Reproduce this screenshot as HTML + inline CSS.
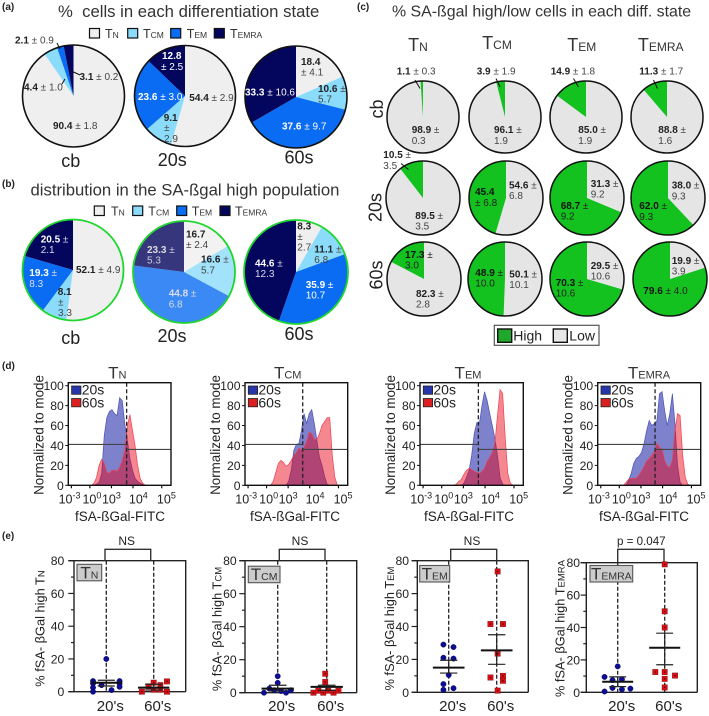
<!DOCTYPE html>
<html>
<head>
<meta charset="utf-8">
<title>SA-ßgal T cell differentiation figure</title>
<style>
html,body{margin:0;padding:0;background:#fff;}
svg{display:block;font-family:"Liberation Sans",sans-serif;}
</style>
</head>
<body>
<svg id="fig" xmlns="http://www.w3.org/2000/svg" width="709" height="716" viewBox="0 0 709 716"></svg>
<script>
/* ---------- pie values (clockwise from 12 o'clock) ---------- */
const subsetOrder = ['TN','TCM','TEM','TEMRA'];
const panelACb  = [90.4, 4.4, 2.1, 3.1];
const panelA20s = [54.4, 9.1, 23.6, 12.8];
const panelA60s = [18.4, 10.6, 37.6, 33.3];
const panelBCb  = [52.1, 8.1, 19.3, 20.5];
const panelB20s = [16.7, 16.6, 44.8, 23.3];
const panelB60s = [8.3, 11.1, 35.9, 44.6];
/* panel c: [low, high] */
const panelCCbTN = [98.9, 1.1];
const panelCCbTCM = [96.1, 3.9];
const panelCCbTEM = [85.0, 14.9];
const panelCCbTEMRA = [88.8, 11.3];
const panelC20TN = [89.5, 10.5];
const panelC20TCM = [54.6, 45.4];
const panelC20TEM = [31.3, 68.7];
const panelC20TEMRA = [38.0, 62.0];
const panelC60TN = [82.3, 17.3];
const panelC60TCM = [50.1, 48.9];
const panelC60TEM = [29.5, 70.3];
const panelC60TEMRA = [19.9, 79.6];

/* ---------- histogram values: % of mode per channel bin (40 bins) ---------- */
const histTN20s = [0,0,0,0,0,0,0,0,0,0,0.5,1,3,12,50,68,74,76,72,70,88,85,62,45,27,15,7,4,2,1,0,0,0,0,0,0,0,0,0,0,0];
const histTN60s = [0,0,0,0,0,0,0,0,0,0,2,8,20,26,22,13,12,15,15,14,18,25,35,60,71,55,40,20,7,2,0,0,0,0,0,0,0,0,0,0,0];
const histTCM20s = [0,0,0,0,0,0,0,0,0,0,0,0,0,0,0,0,0,4,15,35,41,42,55,72,62,72,76,62,45,28,20,9,1,0,0,0,0,0,0,0,0];
const histTCM60s = [0,0,0,0,0,0,0,0,0,0,0,4,13,22,25,23,19,21,25,30,33,37,36,38,44,53,52,46,46,52,60,64,68,68,30,8,0,0,0,0,0];
const histTEM20s = [0,0,0,0,0,0,0,0,0,0,0,0,0,0,0,0,0,2,8,15,30,52,63,62,80,94,85,72,60,47,30,8,1,0,0,0,0,0,0,0,0];
const histTEM60s = [0,0,0,0,0,0,0,0,0,0,0,0,0,0,1,4,6,11,15,17,16,14,13,12,14,17,24,28,33,42,70,96,92,48,12,2,0,0,0,0,0];
const histTEMRA20s = [0,0,0,0,0,0,0,0,0,0,0,0,5,12,22,27,29,33,42,55,65,60,62,65,92,94,75,60,72,92,62,20,3,0,0,0,0,0,0,0,0];
const histTEMRA60s = [0,0,0,0,0,0,0,0,0,0,0,3,6,7,7,7,10,14,19,24,27,30,34,42,38,36,25,19,18,25,55,72,70,30,8,1,0,0,0,0,0];
/* gate: divider channel (fraction of axis), % level left and right of it */
const gateChannel = [0.568, 0.562, 0.565, 0.557];
const gateLeftPct = [41, 41, 41, 41];
const gateRightPct = [36, 36, 36, 36];
const histYTicks = [0, 20, 40, 60, 80, 100];
const histXTickExp = ['-3','0','3','4','5'];

/* ---------- scatter values (% high); offset = jitter in category units ---------- */
const scatterTicks = [0, 20, 40, 60, 80];
const scatterCats = ["20's", "60's"];
const tnYoung = [20,6.5,5,2.5,0,4,1,6.5,5,3];
const tnYoungOffset = [0,-0.28,-0.28,-0.28,-0.28,-0.1,0.11,0.28,0.28,0.28];
const tnOld = [0,3.3,5.5,1.2,4,1.2,6.3,0];
const tnOldOffset = [-0.25,-0.11,0,0,0.14,0.14,0.28,0.28];
const tnMean = [5.5, 2.5];
const tnSemHigh = [7, 4.5];
const tnSemLow = [3.5, 1];
const tcmYoung = [10,6,0,2.5,1.5,1,0,1.5];
const tcmYoungOffset = [0,0,-0.28,-0.17,-0.07,0.07,0.17,0.27];
const tcmOld = [11.5,6.5,0,1.2,0,1.2,0,1.2];
const tcmOldOffset = [-0.03,-0.03,-0.27,-0.17,-0.07,0.03,0.14,0.24];
const tcmMean = [2.5, 3.5];
const tcmSemHigh = [4.5, 4.5];
const tcmSemLow = [1, 1.5];
const temYoung = [29,27.5,21,20.5,10.5,5,1.5,2.5];
const temYoungOffset = [-0.11,0.1,-0.11,0.1,0,-0.11,-0.11,0.1];
const temOld = [73.5,41.5,41.5,23.5,9,10,7,1];
const temOldOffset = [0.02,-0.13,0.13,0.02,-0.13,0.13,0.13,0.02];
const temMean = [15, 25.5];
const temSemHigh = [19.5, 35];
const temSemLow = [11.7, 17];
const temraYoung = [16,9.5,7.5,8,2.7,1.8,2.3,0.5];
const temraYoungOffset = [0,-0.28,-0.11,0.09,-0.11,0.09,0.27,-0.28];
const temraOld = [79,50,40,12.5,12.5,10.3,8.3,3];
const temraOldOffset = [0,0,0,-0.2,0,0.22,0,0];
const temraMean = [6.5, 27.5];
const temraSemHigh = [9.5, 36.5];
const temraSemLow = [3.5, 17];

/* ---------- helpers ---------- */
const NS = 'http://www.w3.org/2000/svg';
const fig = document.getElementById('fig');
const COL = {tn:'#efefef', tcm:'#8bdcfb', tem:'#0a6cf2', temra:'#04055c', high:'#13c11f', low:'#e5e5e5', ring:'#1fd62f', ink:'#222', soft:'#444'};

function add(parent, tag, attrs, name) {
  const el = document.createElementNS(NS, tag);
  for (const k in attrs) el.setAttribute(k, attrs[k]);
  
  
  parent.appendChild(el);
  return el;
}
function span(parent, str, attrs) {
  const t = document.createElementNS(NS, 'tspan');
  for (const k in (attrs || {})) t.setAttribute(k, attrs[k]);
  t.textContent = str;
  parent.appendChild(t);
  return t;
}
function text(name, x, y, str, attrs) {
  const a = Object.assign({x: x, y: y, fill: COL.ink}, attrs || {});
  const el = add(fig, 'text', a, name);
  el.textContent = str;
  return el;
}
function subset(name, x, y, label, big, small, attrs) {
  const a = Object.assign({x: x, y: y, fill: '#333', 'font-size': big}, attrs || {});
  const el = add(fig, 'text', a, name);
  span(el, 'T');
  span(el, label.slice(1), {'font-size': small});
  return el;
}
function pie(name, cx, cy, r, values, colors, stroke, sw, opacity) {
  const g = add(fig, 'g', {}, name);
  const total = values.reduce((a, b) => a + b, 0);
  const slices = add(g, 'g', {opacity: opacity || 1}, name + '-slices');
  let acc = 0;
  values.forEach((v, i) => {
    const a0 = acc / total * 2 * Math.PI;
    acc += v;
    const a1 = acc / total * 2 * Math.PI;
    const large = (a1 - a0) > Math.PI ? 1 : 0;
    const d = 'M' + cx + ' ' + cy +
      'L' + (cx + r * Math.sin(a0)).toFixed(2) + ' ' + (cy - r * Math.cos(a0)).toFixed(2) +
      'A' + r + ' ' + r + ' 0 ' + large + ' 1 ' + (cx + r * Math.sin(a1)).toFixed(2) + ' ' + (cy - r * Math.cos(a1)).toFixed(2) + 'Z';
    add(slices, 'path', {d: d, fill: colors[i]}, name + '-slice');
  });
  add(g, 'circle', {cx: cx, cy: cy, r: r, fill: 'none', stroke: stroke, 'stroke-width': sw}, name + '-outline');
}
/* pie value label: bold part + regular part */
function L(x, y, bold, rest, boldFill, restFill) {
  const el = add(fig, 'text', {x: x, y: y, 'font-size': 10, fill: boldFill || COL.ink}, 'pie-value-label');
  if (bold) span(el, bold, {'font-weight': 'bold'});
  if (rest) span(el, rest, {fill: restFill || COL.soft});
}
function leader(x1, y1, x2, y2) {
  add(fig, 'line', {x1: x1, y1: y1, x2: x2, y2: y2, stroke: '#111', 'stroke-width': 1}, 'leader-line');
}
function square(name, x, y, w, h, fill, sw, stroke) {
  add(fig, 'rect', {x: x, y: y, width: w, height: h, fill: fill, stroke: stroke || '#111', 'stroke-width': sw === undefined ? 1.2 : sw}, name);
}

/* ---------- panel letters ---------- */
text('panel-label-a', 2, 10, '(a)', {'font-size': 10, 'font-weight': 'bold'});
text('panel-label-b', 2, 187, '(b)', {'font-size': 10, 'font-weight': 'bold'});
text('panel-label-c', 357, 10, '(c)', {'font-size': 10, 'font-weight': 'bold'});
text('panel-label-d', 2, 369, '(d)', {'font-size': 10, 'font-weight': 'bold'});
text('panel-label-e', 2, 539, '(e)', {'font-size': 10, 'font-weight': 'bold'});

/* ---------- panel a ---------- */
const subsetColors = [COL.tn, COL.tcm, COL.tem, COL.temra];
text('panel-a-title', 58, 17, '%  cells in each differentiation state', {'font-size': 16.7, fill: '#333', style: 'white-space:pre'});
const aLegendX = [89.5, 127.7, 170.7, 214.3];
const aLegendTextX = [105, 143, 186.7, 230];
subsetOrder.forEach((s, i) => {
  square('legend-a-swatch-' + s.toLowerCase(), aLegendX[i], 28.5, 10, 9.5, subsetColors[i]);
  subset('legend-a-label-' + s.toLowerCase(), aLegendTextX[i], 38, s, 12.5, 8.5);
});
pie('pie-a-cb', 73.5, 96, 51, panelACb, subsetColors, '#111', 1.6);
pie('pie-a-20s', 185, 96, 50.5, panelA20s, subsetColors, '#111', 1.6);
pie('pie-a-60s', 296, 97, 51, panelA60s, subsetColors, '#111', 1.6);
L(15, 43.5, '2.1', ' ± 0.9'); L(24, 90.5, '4.4', ' ± 1.0'); L(79.5, 80, '3.1', ' ± 0.2'); L(53, 129, '90.4', ' ± 1.8');
leader(57, 43, 60, 49); leader(72.5, 71.5, 80, 75); leader(62, 84, 65, 79);
L(162, 59, '12.8', '', '#fff'); L(161, 70, '', '± 2.5', '#fff', '#fff');
L(138, 100, '23.6', ' ± 3.0', '#fff', '#fff'); L(189.3, 101, '54.4', ' ± 2.9');
L(163.7, 121, '9.1', ''); L(164, 131, '', '±'); L(164, 142, '', '2.9');
L(301, 65, '18.4', ''); L(301, 75.5, '', '± 4.1');
L(245, 95.5, '33.3', ' ± 10.6', '#fff', '#fff'); L(318, 92, '10.6', ' ±'); L(318, 102.5, '', '5.7');
L(282, 129.5, '37.6', ' ± 9.7', '#fff', '#fff');
text('pie-a-cb-label', 70.7, 167, 'cb', {'font-size': 18, 'text-anchor': 'middle', fill: '#222'});
text('pie-a-20s-label', 172.3, 166, '20s', {'font-size': 18, 'text-anchor': 'middle', fill: '#222'});
text('pie-a-60s-label', 299, 163.5, '60s', {'font-size': 18, 'text-anchor': 'middle', fill: '#222'});

/* ---------- panel b ---------- */
text('panel-b-title', 30.5, 195.5, 'distribution in the SA-ßgal high population', {'font-size': 16.7, fill: '#333'});
const bLegendX = [94.3, 132.7, 176.7, 220];
const bLegendTextX = [111, 148.3, 191.7, 235];
subsetOrder.forEach((s, i) => {
  square('legend-b-swatch-' + s.toLowerCase(), bLegendX[i], 206, 10, 9.5, subsetColors[i]);
  subset('legend-b-label-' + s.toLowerCase(), bLegendTextX[i], 215.5, s, 12.5, 8.5);
});
pie('pie-b-cb', 73, 270, 50.5, panelBCb, subsetColors, COL.ring, 1.8);
pie('pie-b-20s', 184, 272, 51, panelB20s, subsetColors, COL.ring, 1.8, 0.8);
pie('pie-b-60s', 296, 272, 52, panelB60s, subsetColors, COL.ring, 1.8);
L(40.7, 242.5, '20.5', ' ±', '#fff', '#dde'); L(40.7, 253, '', '2.1', '#fff', '#dde');
L(29.3, 276, '19.3', ' ±', '#fff', '#dde'); L(29.3, 287, '', '8.3', '#fff', '#dde');
L(76, 273, '52.1', ' ± 4.9'); L(57.7, 295, '8.1', ''); L(58, 305.5, '', '±'); L(58, 316, '', '3.3');
L(186, 237.5, '16.7', ''); L(186, 248, '', '± 2.4');
L(201, 262.5, '16.6', ' ±'); L(201, 273.5, '', '5.7');
L(147, 253, '23.3', ' ±', '#ddd', '#ccd'); L(147, 263.5, '', '5.3', '#ddd', '#ccd');
L(168.7, 296.5, '44.8', ' ±', '#dde', '#dde'); L(168.7, 307.5, '', '6.8', '#dde', '#dde');
L(297.3, 229.5, '8.3', ''); L(297.3, 240, '', '±'); L(297.3, 250.5, '', '2.7');
L(314.3, 252.5, '11.1', ' ±'); L(314.3, 263, '', '6.8');
L(255, 266.5, '44.6', ' ±', '#fff', '#dde'); L(255, 277, '', '12.3', '#fff', '#dde');
L(305.7, 288, '35.9', ' ±', '#fff', '#fff'); L(305.7, 298.5, '', '10.7', '#fff', '#fff');
text('pie-b-cb-label', 70.7, 344, 'cb', {'font-size': 18, 'text-anchor': 'middle', fill: '#222'});
text('pie-b-20s-label', 172, 342, '20s', {'font-size': 18, 'text-anchor': 'middle', fill: '#222'});
text('pie-b-60s-label', 299, 340, '60s', {'font-size': 18, 'text-anchor': 'middle', fill: '#222'});

/* ---------- panel c ---------- */
const hiLowColors = [COL.low, COL.high];
text('panel-c-title', 392, 16.5, '% SA-ßgal high/low cells in each diff. state', {'font-size': 15.9, fill: '#333'});
subset('column-head-tn', 418, 51, 'TN', 18, 12, {'text-anchor': 'middle'});
subset('column-head-tcm', 497, 49, 'TCM', 18, 12, {'text-anchor': 'middle'});
subset('column-head-tem', 581.7, 51, 'TEM', 18, 12, {'text-anchor': 'middle'});
subset('column-head-temra', 660.7, 51, 'TEMRA', 18, 12, {'text-anchor': 'middle'});
text('row-label-cb', 383, 109, 'cb', {'font-size': 18, 'text-anchor': 'middle', transform: 'rotate(-90 383 109)', fill: '#222'});
text('row-label-20s', 381.7, 207.5, '20s', {'font-size': 18, 'text-anchor': 'middle', transform: 'rotate(-90 381.7 207.5)', fill: '#222'});
text('row-label-60s', 382.3, 275, '60s', {'font-size': 18, 'text-anchor': 'middle', transform: 'rotate(-90 382.3 275)', fill: '#222'});
pie('pie-c-cb-tn', 423, 117, 36, panelCCbTN, hiLowColors, '#111', 1.5);
pie('pie-c-cb-tcm', 505, 117, 36, panelCCbTCM, hiLowColors, '#111', 1.5);
pie('pie-c-cb-tem', 586, 117, 36, panelCCbTEM, hiLowColors, '#111', 1.5);
pie('pie-c-cb-temra', 667, 117, 36, panelCCbTEMRA, hiLowColors, '#111', 1.5);
pie('pie-c-20s-tn', 423, 198, 37, panelC20TN, hiLowColors, '#111', 1.5);
pie('pie-c-20s-tcm', 506, 198, 37, panelC20TCM, hiLowColors, '#111', 1.5);
pie('pie-c-20s-tem', 587, 198, 37, panelC20TEM, hiLowColors, '#111', 1.5);
pie('pie-c-20s-temra', 668, 198, 37, panelC20TEMRA, hiLowColors, '#111', 1.5);
pie('pie-c-60s-tn', 424, 279, 37, panelC60TN, hiLowColors, '#111', 1.5);
pie('pie-c-60s-tcm', 505, 279, 37, panelC60TCM, hiLowColors, '#111', 1.5);
pie('pie-c-60s-tem', 587, 279, 37, panelC60TEM, hiLowColors, '#111', 1.5);
pie('pie-c-60s-temra', 670, 279, 37, panelC60TEMRA, hiLowColors, '#111', 1.5);
L(396.7, 74.5, '1.1', ' ± 0.3'); L(476.7, 74.5, '3.9', ' ± 1.9'); L(550.7, 74.5, '14.9', ' ± 1.8'); L(639.3, 74.5, '11.3', ' ± 1.7');
leader(415, 80, 420, 88.5); leader(496, 78.5, 500, 87); leader(573.5, 78.5, 578.5, 87); leader(653.5, 80, 657.5, 88.5);
L(411.7, 133, '98.9', ' ±'); L(411.7, 144, '', '0.3');
L(494, 133, '96.1', ' ±'); L(494, 144, '', '1.9');
L(578.3, 133, '85.0', ' ±'); L(578.3, 144, '', '1.9');
L(658.3, 133, '88.8', ' ±'); L(658.3, 144, '', '1.6');
L(383.3, 158, '10.5', ' ±'); L(383.3, 169, '', '3.5'); leader(401, 163.5, 408.5, 169.5);
L(415.3, 219, '89.5', ' ±'); L(415.3, 229.5, '', '3.5');
L(475, 195, '45.4', '', '#111'); L(475, 206, '', '± 6.8', '#111', '#222');
L(509, 188.5, '54.6', ' ±'); L(509, 199, '', '6.8');
L(590.7, 187, '31.3', ' ±'); L(590.7, 197.5, '', '9.2');
L(560.7, 209, '68.7', ' ±', '#111', '#222'); L(560.7, 219.5, '', '9.2', '#111', '#222');
L(671.7, 188.5, '38.0', ' ±'); L(671.7, 199.5, '', '9.3');
L(639.3, 209, '62.0', ' ±', '#111', '#222'); L(639.3, 220, '', '9.3', '#111', '#222');
L(405, 258, '17.3', ' ±', '#111', '#222'); L(405, 268.5, '', '3.0', '#111', '#222');
L(416, 297, '82.3', ' ±'); L(416, 307.5, '', '2.8');
L(475.3, 276, '48.9', ' ±', '#111', '#222'); L(475.3, 286.5, '', '10.0', '#111', '#222');
L(509.3, 277.5, '50.1', ' ±'); L(509.3, 288, '', '10.1');
L(590.7, 269, '29.5', ' ±'); L(590.7, 279.5, '', '10.6');
L(555.7, 286, '70.3', ' ±', '#111', '#222'); L(555.7, 296.5, '', '10.6', '#111', '#222');
L(671.7, 264, '19.9', ' ±'); L(671.7, 274.5, '', '3.9');
L(643.3, 294, '79.6', ' ± 4.0', '#111', '#222');
square('legend-c-box', 494.3, 325.3, 104.7, 20, '#fff', 1.2, '#555');
square('legend-c-swatch-high', 497.7, 329, 14, 13.3, '#1fa82c', 1.4);
text('legend-c-label-high', 513.3, 340.5, 'High', {'font-size': 14, fill: '#222'});
square('legend-c-swatch-low', 553.3, 329, 14, 13.3, '#e8e8e8', 1.4);
text('legend-c-label-low', 569.3, 340.5, 'Low', {'font-size': 14, fill: '#222'});

/* ---------- panel d: histograms ---------- */
function histogram(name, left, width, title, s20, s60, gi, titleX, xLabelX) {
  const top = 382.7, bottom = 485.3, y100 = 385.7;
  const xS = b => left + b / 40 * width;
  const xF = f => left + f * width;
  const yS = v => bottom - v / 100 * (bottom - y100);
  const area = (vals) => {
    let d = 'M' + xS(0) + ' ' + bottom;
    vals.forEach((v, i) => { d += 'L' + xS(i).toFixed(2) + ' ' + yS(v).toFixed(2); });
    return d + 'L' + xS(vals.length - 1) + ' ' + bottom + 'Z';
  };
  add(fig, 'rect', {x: left, y: top, width: width, height: bottom - top, fill: '#fff'}, name + '-plot-background');
  add(fig, 'path', {d: area(s20), fill: 'rgba(40,45,170,0.6)', stroke: '#4a52b8', 'stroke-width': 0.7}, name + '-area-20s');
  add(fig, 'path', {d: area(s60), fill: 'rgba(232,0,20,0.47)', stroke: '#f04050', 'stroke-width': 0.7}, name + '-area-60s');
  const gx = xF(gateChannel[gi]);
  add(fig, 'line', {x1: gx, y1: top, x2: gx, y2: bottom, stroke: '#222', 'stroke-width': 1.3, 'stroke-dasharray': '4 2.5'}, name + '-gate-divider');
  add(fig, 'line', {x1: left, y1: yS(gateLeftPct[gi]), x2: gx, y2: yS(gateLeftPct[gi]), stroke: '#444', 'stroke-width': 1.1}, name + '-gate-low');
  add(fig, 'line', {x1: gx, y1: yS(gateRightPct[gi]), x2: left + width, y2: yS(gateRightPct[gi]), stroke: '#444', 'stroke-width': 1.1}, name + '-gate-high');
  add(fig, 'rect', {x: left, y: top, width: width, height: bottom - top, fill: 'none', stroke: '#111', 'stroke-width': 1.4}, name + '-frame');
  histYTicks.forEach(t => {
    add(fig, 'line', {x1: left - 3, y1: yS(t), x2: left, y2: yS(t), stroke: '#111', 'stroke-width': 1}, name + '-y-tick');
    text(name + '-y-tick-label', left - 4.5, yS(t) + 4.5, String(t), {'font-size': 12.2, 'text-anchor': 'end', fill: '#222'});
  });
  [0.03, 0.21, 0.42, 0.63, 0.91].forEach(f => {
    add(fig, 'line', {x1: xF(f), y1: bottom, x2: xF(f), y2: bottom + 3, stroke: '#111', 'stroke-width': 1.2}, name + '-x-tick');
  });
  [0.012, 0.23, 0.42, 0.682, 0.955].forEach((f, i) => {
    const lab = add(fig, 'text', {x: xF(f), y: 503.5, 'font-size': 12.5, 'text-anchor': 'middle', fill: '#222'}, name + '-x-tick-label');
    span(lab, '10');
    span(lab, histXTickExp[i], {'font-size': 9, dy: -5});
  });
  const yl = left - 25;
  text(name + '-y-axis-title', yl, 435, 'Normalized to mode', {'font-size': 13.4, 'text-anchor': 'middle', transform: 'rotate(-90 ' + yl + ' 435)', fill: '#222'});
  text(name + '-x-axis-title', xLabelX, 521, 'fSA-ßGal-FITC', {'font-size': 13.5, 'text-anchor': 'middle', fill: '#222'});
  subset(name + '-title', titleX, 378.5, title, 17, 11, {'text-anchor': 'middle'});
  square(name + '-legend-swatch-20s', left + 3.3, 386, 9.3, 8.3, '#2636a8', 0.8, '#222');
  text(name + '-legend-label-20s', left + 13.4, 394.5, '20s', {'font-size': 14, fill: '#222'});
  square(name + '-legend-swatch-60s', left + 3.3, 398.5, 9.3, 8.3, '#dc2020', 0.8, '#222');
  text(name + '-legend-label-60s', left + 13.4, 407.5, '60s', {'font-size': 14, fill: '#222'});
}
histogram('histogram-tn', 68.3, 102.7, 'TN', histTN20s, histTN60s, 0, 117.3, 120);
histogram('histogram-tcm', 245, 102.7, 'TCM', histTCM20s, histTCM60s, 1, 287.7, 295);
histogram('histogram-tem', 420, 103.3, 'TEM', histTEM20s, histTEM60s, 2, 468, 469);
histogram('histogram-temra', 597.7, 103, 'TEMRA', histTEMRA20s, histTEMRA60s, 3, 649, 644);

/* ---------- panel e: scatter ---------- */
function scatter(cfg) {
  const name = cfg.name, y0 = cfg.y0, y80 = cfg.y80, axis = cfg.axis;
  const yS = v => y0 - v / 80 * (y0 - y80);
  const xS = c => cfg.cat0 + c * (cfg.cat1 - cfg.cat0);
  const topBar = 549.3;
  add(fig, 'path', {d: 'M' + axis + ' ' + y80 + 'H' + cfg.right + 'V' + y0 + 'M' + (axis - 5.7) + ' ' + y80 + 'H' + axis + 'V' + y0 + 'M' + (axis - 5.7) + ' ' + y0 + 'H' + cfg.right, fill: 'none', stroke: '#222', 'stroke-width': 1.4}, name + '-axes');
  for (let t = 0; t <= 80; t += 10) {
    const major = scatterTicks.indexOf(t) >= 0;
    add(fig, 'line', {x1: axis - (major ? 5.7 : 3), y1: yS(t), x2: axis, y2: yS(t), stroke: '#222', 'stroke-width': 1.2}, name + '-y-tick');
  }
  scatterTicks.forEach(t => {
    text(name + '-y-tick-label', cfg.labelRight, yS(t) + 4.5, String(t), {'font-size': 12.2, 'text-anchor': 'end', fill: '#222'});
  });
  [0, 1].forEach(c => {
    add(fig, 'line', {x1: xS(c), y1: y80, x2: xS(c), y2: y0, stroke: '#222', 'stroke-width': 1.3, 'stroke-dasharray': '4 2'}, name + '-category-guide');
    text(name + '-x-tick-label', xS(c) + cfg.catShift, 711, scatterCats[c], {'font-size': 15, 'text-anchor': 'middle', fill: '#222'});
  });
  add(fig, 'path', {d: 'M' + cfg.bracketL + ' ' + y80 + 'V' + topBar + 'H' + cfg.bracketR + 'V' + y80, fill: 'none', stroke: '#333', 'stroke-width': 1.4}, name + '-significance-bracket');
  text(name + '-significance-label', cfg.sigX, 545, cfg.sig, {'font-size': cfg.sigSize, 'text-anchor': 'middle', fill: '#222'});
  const yl = cfg.titleX, yc = cfg.titleY;
  const tt = add(fig, 'text', {x: yl, y: yc, 'font-size': 12.8, 'text-anchor': 'middle', transform: 'rotate(-90 ' + yl + ' ' + yc + ')', fill: '#222'}, name + '-y-axis-title');
  span(tt, '% fSA- βGal high T');
  span(tt, cfg.sub, {'font-size': 9.5});
  [0, 1].forEach(c => {
    const vals = c === 0 ? cfg.young : cfg.old;
    const offs = c === 0 ? cfg.youngOff : cfg.oldOff;
    vals.forEach((v, i) => {
      const px = xS(c + offs[i]), py = yS(v);
      if (c === 0) {
        add(fig, 'circle', {cx: px, cy: py, r: 2.7, fill: '#0c0c96', stroke: '#06064a', 'stroke-width': 0.4}, name + '-point-20s');
      } else {
        add(fig, 'rect', {x: px - 2.7, y: py - 2.7, width: 5.4, height: 5.4, fill: '#d80f14', stroke: '#7a0a0c', 'stroke-width': 0.4}, name + '-point-60s');
        add(fig, 'rect', {x: px - 0.6, y: py - 0.6, width: 1.2, height: 1.2, fill: '#300'}, name + '-point-60s-center');
      }
    });
    const mx = xS(c);
    add(fig, 'line', {x1: xS(c - 0.33), y1: yS(cfg.mean[c]), x2: xS(c + 0.33), y2: yS(cfg.mean[c]), stroke: '#111', 'stroke-width': 2}, name + '-mean-line');
    add(fig, 'path', {d: 'M' + xS(c - 0.18) + ' ' + yS(cfg.hi[c]) + 'H' + xS(c + 0.18) + 'M' + xS(c - 0.18) + ' ' + yS(cfg.lo[c]) + 'H' + xS(c + 0.18) + 'M' + mx + ' ' + yS(cfg.hi[c]) + 'V' + yS(cfg.lo[c]), fill: 'none', stroke: '#222', 'stroke-width': 1.2}, name + '-sem-bars');
  });
  add(fig, 'rect', {x: cfg.boxX, y: cfg.boxY, width: cfg.boxW, height: 16.5, fill: '#ccc', stroke: '#555', 'stroke-width': 1.1}, name + '-subset-tag');
  const bt = add(fig, 'text', {x: cfg.boxX + cfg.boxW / 2, y: cfg.boxY + 14, 'font-size': 17, 'text-anchor': 'middle', fill: '#333'}, name + '-subset-tag-label');
  span(bt, 'T');
  span(bt, cfg.sub, {'font-size': 10.5});
}
scatter({name: 'scatter-tn', y0: 691.7, y80: 560.7, axis: 74, right: 185.7, labelRight: 64.3, cat0: 106.3, cat1: 153.7, catShift: 4, sig: 'NS', sigSize: 12, sigX: 126.7, bracketL: 105, bracketR: 150.7, sub: 'N',
  titleX: 44.5, titleY: 628.5, young: tnYoung, youngOff: tnYoungOffset, old: tnOld, oldOff: tnOldOffset, mean: tnMean, hi: tnSemHigh, lo: tnSemLow,
  boxX: 77, boxY: 564.3, boxW: 24.7});
scatter({name: 'scatter-tcm', y0: 692.7, y80: 560.7, axis: 245, right: 356.7, labelRight: 236.7, cat0: 277.7, cat1: 326.7, catShift: 4, sig: 'NS', sigSize: 12, sigX: 300, bracketL: 279.3, bracketR: 325, sub: 'CM',
  titleX: 221.7, titleY: 629, young: tcmYoung, youngOff: tcmYoungOffset, old: tcmOld, oldOff: tcmOldOffset, mean: tcmMean, hi: tcmSemHigh, lo: tcmSemLow,
  boxX: 248.3, boxY: 566.2, boxW: 31.7});
scatter({name: 'scatter-tem', y0: 692.3, y80: 560.7, axis: 417.3, right: 528.3, labelRight: 409, cat0: 448.7, cat1: 496.7, catShift: 4, sig: 'NS', sigSize: 12, sigX: 472, bracketL: 450.7, bracketR: 496.7, sub: 'EM',
  titleX: 394, titleY: 628.5, young: temYoung, youngOff: temYoungOffset, old: temOld, oldOff: temOldOffset, mean: temMean, hi: temSemHigh, lo: temSemLow,
  boxX: 419.7, boxY: 565.5, boxW: 30});
scatter({name: 'scatter-temra', y0: 692.3, y80: 562.7, axis: 586.3, right: 697.3, labelRight: 580, cat0: 617.7, cat1: 664.7, catShift: 4, sig: 'p = 0.047', sigSize: 11.6, sigX: 641.3, bracketL: 617.7, bracketR: 664, sub: 'EMRA',
  titleX: 564.7, titleY: 628.5, young: temraYoung, youngOff: temraYoungOffset, old: temraOld, oldOff: temraOldOffset, mean: temraMean, hi: temraSemHigh, lo: temraSemLow,
  boxX: 590, boxY: 565.5, boxW: 42.7});
</script>
</body>
</html>
